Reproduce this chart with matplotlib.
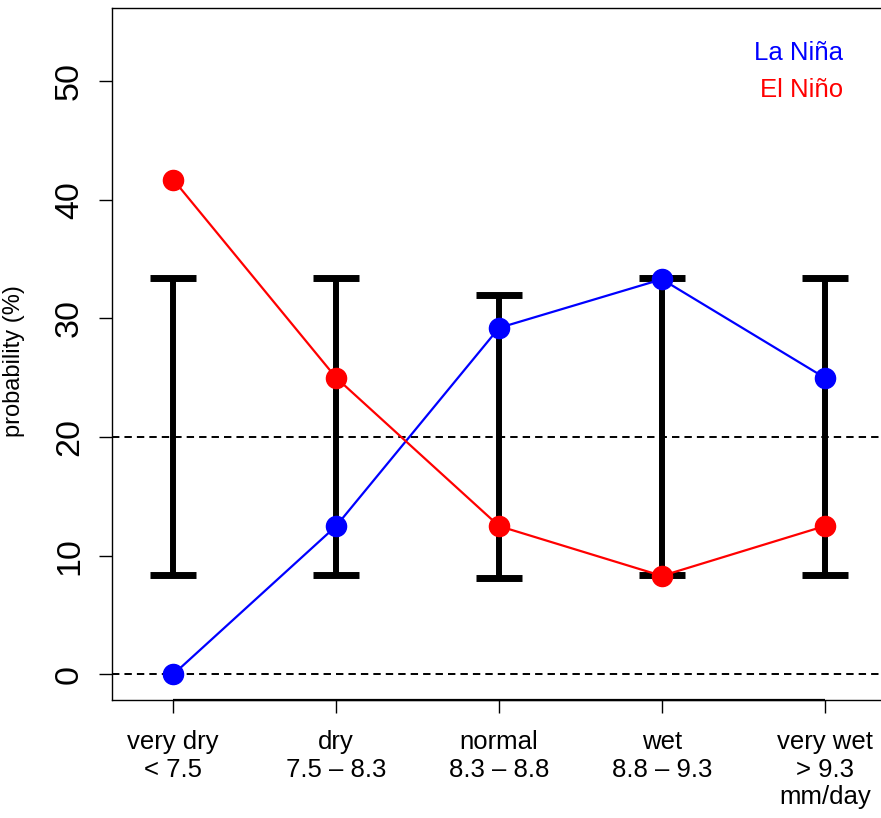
import matplotlib
matplotlib.use("Agg")
import matplotlib.pyplot as plt

plt.rcParams['font.family'] = ['Liberation Sans', 'DejaVu Sans']

categories = ["very dry\n< 7.5", "dry\n7.5 – 8.3", "normal\n8.3 – 8.8",
              "wet\n8.8 – 9.3", "very wet\n> 9.3\nmm/day"]
x = [1, 2, 3, 4, 5]
bar_low = [8.4, 8.4, 8.1, 8.4, 8.4]
bar_high = [33.4, 33.4, 32.0, 33.4, 33.4]
la_nina = [0.0, 12.5, 29.2, 33.3, 25.0]
el_nino = [41.7, 25.0, 12.5, 8.3, 12.5]
yticks = [0, 10, 20, 30, 40, 50]

W, H = 881, 818
fig = plt.figure(figsize=(W / 100, H / 100), dpi=100)
ax = fig.add_axes([112 / W, (H - 700) / H, (886 - 112) / W, 692 / H])

ax.set_xlim(0.624, 5.376)
ax.set_ylim(-2.16, 56.16)

# reference dashed lines
for yv in [0, 20]:
    ax.axhline(yv, color='black', lw=1.4, dashes=(3.8, 2.6), zorder=1)

# error bars
cap = 0.14
ax.vlines(x, bar_low, bar_high, color='black', lw=4.3, zorder=2)
ax.hlines(bar_low, [v - cap for v in x], [v + cap for v in x], color='black', lw=5.0, zorder=2,
          capstyle='butt')
ax.hlines(bar_high, [v - cap for v in x], [v + cap for v in x], color='black', lw=5.0, zorder=2,
          capstyle='butt')

ax.plot(x, la_nina, color='#0000FF', lw=1.6, marker='o', ms=14.5, zorder=3)
ax.plot(x, el_nino, color='#FF0000', lw=1.6, marker='o', ms=14.5, zorder=3)

# axes
for s in ax.spines.values():
    s.set_linewidth(1.0)
ax.plot([1, 5], [-2.16, -2.16], color='black', lw=1.6, clip_on=False, zorder=5,
        solid_capstyle='butt')

ax.set_xticks(x)
ax.set_xticklabels(categories, fontsize=18.5, linespacing=1.2, va='top')
ax.set_yticks(yticks)
ax.set_yticklabels([str(v) for v in yticks], fontsize=24.5, rotation=90, va='center')
ax.tick_params(axis='both', direction='out', length=9.5, width=1.0)
ax.tick_params(axis='x', pad=12)
ax.tick_params(axis='y', pad=10)

ax.set_ylabel("probability (%)", fontsize=17)
ax.yaxis.set_label_coords((25 - 112) / (886 - 112), (818 - 361 - 118) / 692)

ax.text(843 / W, 1 - 53 / H, "La Niña", color='#0000FF', fontsize=18.5,
        transform=fig.transFigure, ha='right', va='center')
ax.text(843 / W, 1 - 90 / H, "El Niño", color='#FF0000', fontsize=18.5,
        transform=fig.transFigure, ha='right', va='center')

fig.savefig("out.png", dpi=100)
